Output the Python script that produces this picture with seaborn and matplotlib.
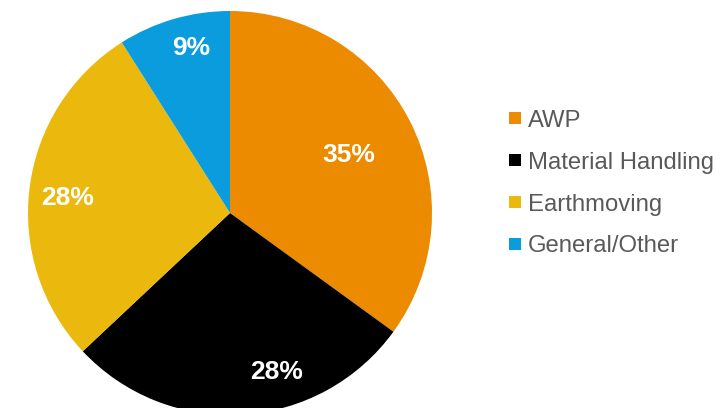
import numpy as np
import matplotlib
matplotlib.use("Agg")
import matplotlib.pyplot as plt
from matplotlib.lines import Line2D
import seaborn as sns

sns.set_style("white")
plt.rcParams["font.family"] = ["Liberation Sans", "DejaVu Sans"]

# data
segments = ["AWP", "Material Handling", "Earthmoving", "General/Other"]
shares = [35, 28, 28, 9]
colors = sns.color_palette(["#EC8B00", "#000000", "#EBB90D", "#0A9CDC"])

# label placement per slice (fraction of radius, angle shift in degrees)
label_dist = [0.66, 0.81, 0.81, 0.85]
label_shift = [0, 13, 1, -3]

fig = plt.figure(figsize=(7.28, 4.08), dpi=100)
ax = fig.add_axes([28 / 728, -7 / 408, 404 / 728, 404 / 408])

wedges, _ = ax.pie(shares, colors=colors, startangle=90, counterclock=False,
                   radius=1, wedgeprops=dict(linewidth=0))

for w, val, d, s in zip(wedges, shares, label_dist, label_shift):
    ang = np.deg2rad((w.theta1 + w.theta2) / 2 + s)
    ax.text(d * np.cos(ang), d * np.sin(ang) - 0.012, f"{val}%", color="white",
            fontsize=19, fontweight="bold", ha="center", va="center")

ax.set_xlim(-1, 1)
ax.set_ylim(-1, 1)
ax.set_aspect("equal")
ax.axis("off")

handles = [Line2D([], [], marker="s", linestyle="none", markersize=8.8,
                  markerfacecolor=c, markeredgewidth=0) for c in colors]
fig.legend(handles, segments, loc="center left", bbox_to_anchor=(0.697, 0.55),
           frameon=False, fontsize=17.2, labelcolor="#595959", handlelength=0.6,
           handletextpad=0.25, labelspacing=0.83, borderpad=0, borderaxespad=0)

fig.savefig("out.png", dpi=100)
